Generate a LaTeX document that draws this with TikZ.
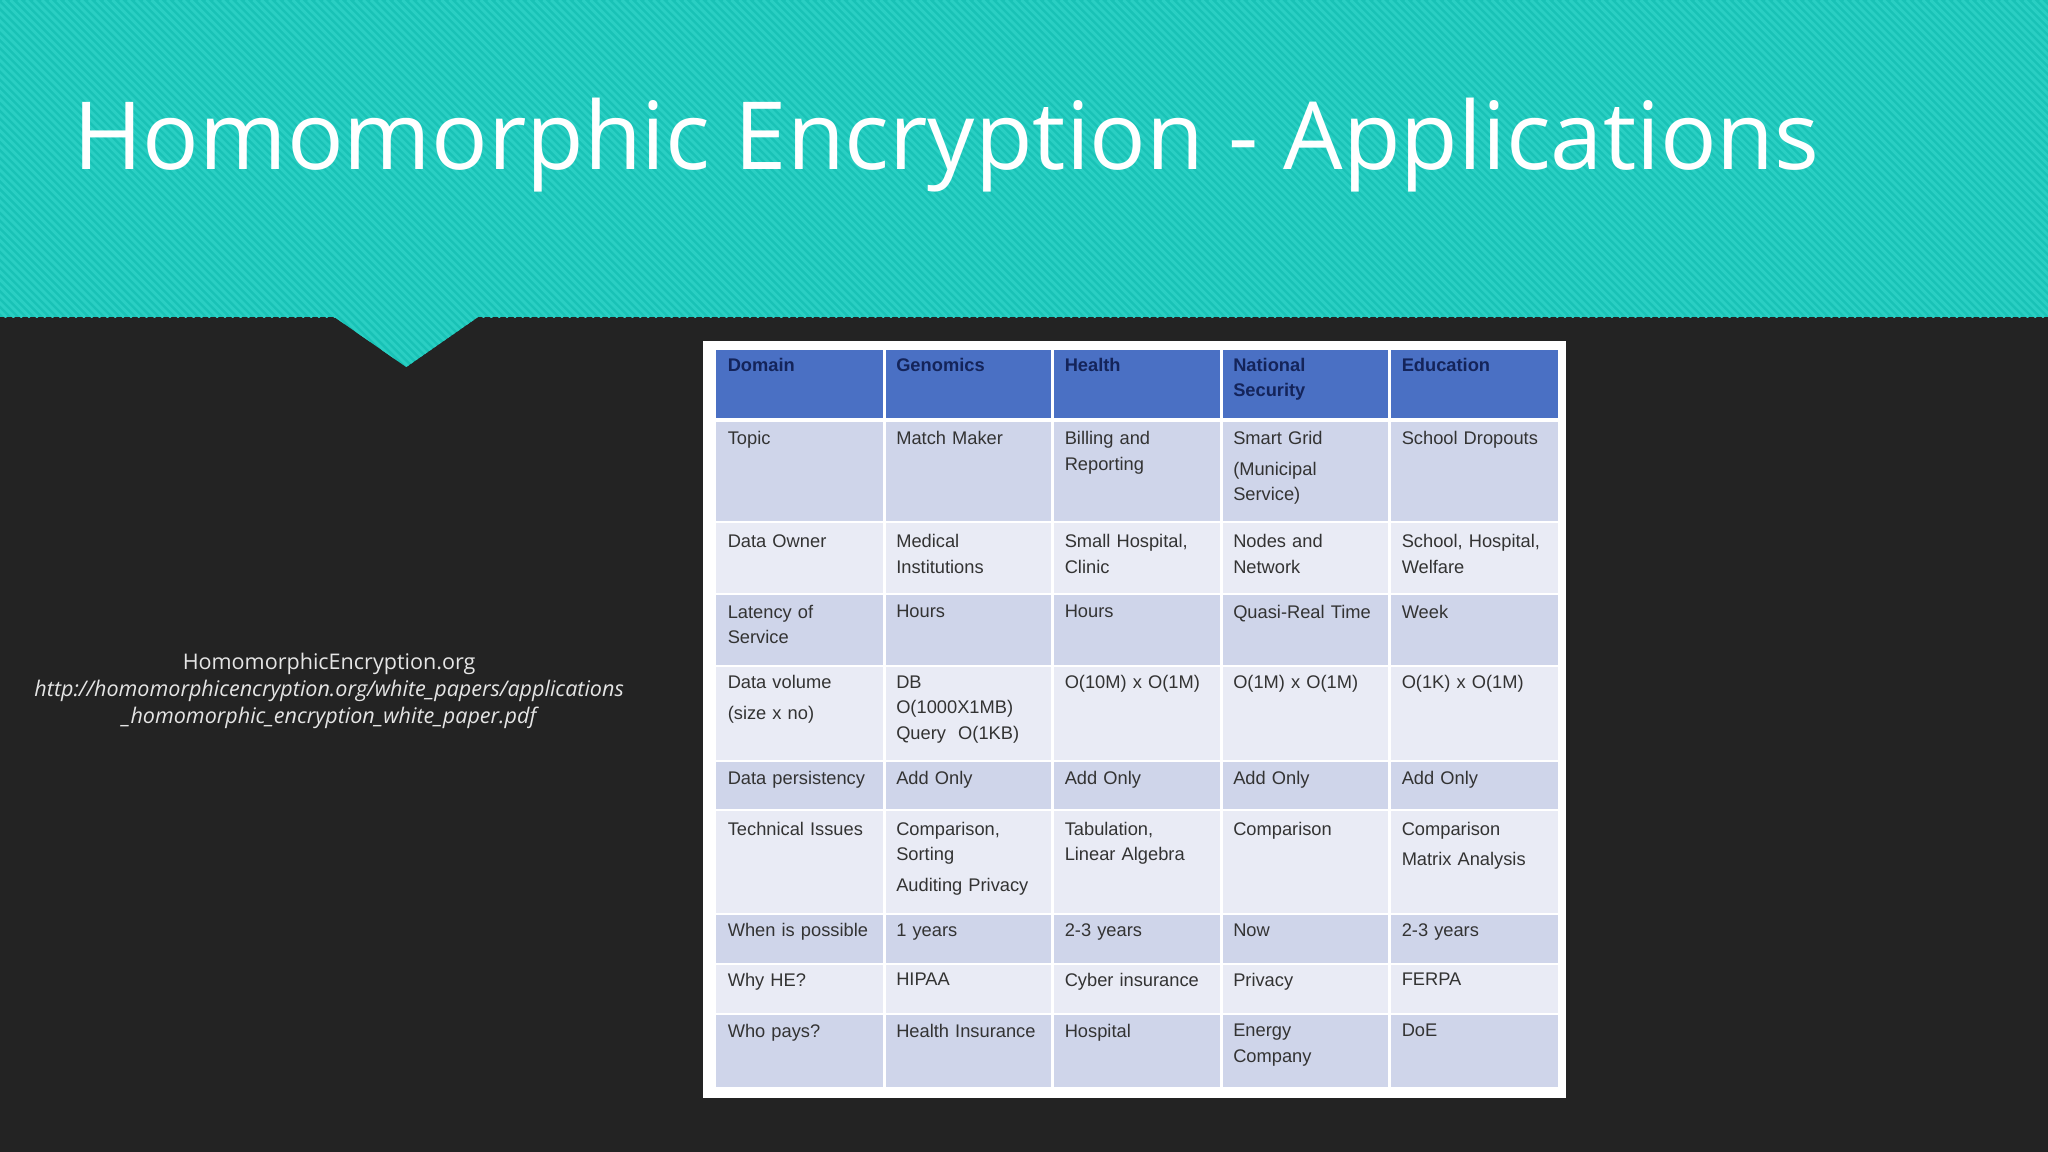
\documentclass[tikz,border=0pt]{standalone}
\usepackage{fontspec}
\setmainfont{Liberation Sans}
\newfontfamily\titlefont{Open Sans}
\definecolor{teal1}{HTML}{19C2B6}
\definecolor{teal2}{HTML}{2ACFC3}
\definecolor{bgdark}{HTML}{232323}
\definecolor{hdr}{HTML}{4A70C4}
\definecolor{hdrtxt}{HTML}{14245A}
\definecolor{rowA}{HTML}{CFD5EA}
\definecolor{rowB}{HTML}{E9EBF5}
\definecolor{celltxt}{HTML}{333333}
\tikzset{
  cell/.style={anchor=north west,align=left,inner sep=0pt,text width=118pt,font=\fontsize{14}{19.5}\selectfont,text=celltxt},
  hcell/.style={cell,font=\fontsize{14}{19.5}\selectfont\bfseries,text=hdrtxt},
  cite/.style={align=center,font=\titlefont\fontsize{16.5}{21}\selectfont,text=white!90!black,inner sep=0pt}
}
\begin{document}
\begin{tikzpicture}[x=1pt,y=-1pt]
\useasboundingbox (0,0) rectangle (1568,882);
\fill[bgdark] (0,0) rectangle (1568,882);
\fill[teal1] (0,0) rectangle (1568,243);
\begin{scope}
\clip (0,0) rectangle (1568,243);
\foreach \i in {-250,-244,...,1570}{
  \draw[teal2,line width=2.2pt] (\i,0) -- (\i+243,243);
}
\end{scope}
\fill[teal1] (255,242) -- (367,242) -- (311,281) -- cycle;
\begin{scope}
\clip (255,242) -- (367,242) -- (311,281) -- cycle;
\foreach \i in {-10,-4,...,370}{
  \draw[teal2,line width=2.2pt] (\i,0) -- (\i+300,300);
}
\end{scope}
\node[anchor=west,inner sep=0pt,text=white,font=\titlefont\fontsize{72}{80}\selectfont] (title) at (56,111) {Homomorphic Encryption - Applications};
\node[cite] (cite) at (252,529) {HomomorphicEncryption.org\\\itshape http://homomorphicencryption.org/white\_papers/applications\\\itshape \_homomorphic\_encryption\_white\_paper.pdf};
% table
\fill[white] (538,261) rectangle (1199,841);
\def\xs{{548,677,806,935,1064,1193}}
\fill[hdr] (548,268) rectangle (1193,320);
\foreach \a/\b/\c in {322/400/rowA,400/455/rowB,455/510/rowA,510/583/rowB,583/620/rowA,620/700/rowB,700/738/rowA,738/776/rowB,776/832/rowA}{
  \fill[\c] (548,\a) rectangle (1193,\b);
  \draw[white,line width=1.5pt] (548,\a) -- (1193,\a);
}
\foreach \x in {677,806,935,1064}{\draw[white,line width=2pt] (\x,268) -- (\x,832);}
% header
\node[hcell] (h1) at (557,274) {Domain};
\node[hcell] (h2) at (686,274) {Genomics};
\node[hcell] (h3) at (815,274) {Health};
\node[hcell] (h4) at (944,274) {National\\Security};
\node[hcell] (h5) at (1073,274) {Education};
% rows
\node[cell] (r1a) at (557,330) {Topic};
\node[cell] (r1b) at (686,330) {Match Maker};
\node[cell] (r1c) at (815,330) {Billing and\\Reporting};
\node[cell] (r1d) at (944,330) {Smart Grid\\[4pt](Municipal\\Service)};
\node[cell] (r1e) at (1073,330) {School Dropouts};
\node[cell] (r2a) at (557,409) {Data Owner};
\node[cell] (r2b) at (686,409) {Medical\\Institutions};
\node[cell] (r2c) at (815,409) {Small Hospital,\\Clinic};
\node[cell] (r2d) at (944,409) {Nodes and\\Network};
\node[cell] (r2e) at (1073,409) {School, Hospital,\\Welfare};
\node[cell] (r3a) at (557,463) {Latency of\\Service};
\node[cell] (r3b) at (686,463) {Hours};
\node[cell] (r3c) at (815,463) {Hours};
\node[cell] (r3d) at (944,463) {Quasi-Real Time};
\node[cell] (r3e) at (1073,463) {Week};
\node[cell] (r4a) at (557,517) {Data volume\\[4pt](size x no)};
\node[cell] (r4b) at (686,517) {DB\\O(1000X1MB)\\Query\ \ O(1KB)};
\node[cell] (r4c) at (815,517) {O(10M) x O(1M)};
\node[cell] (r4d) at (944,517) {O(1M) x O(1M)};
\node[cell] (r4e) at (1073,517) {O(1K) x O(1M)};
\node[cell] (r5a) at (557,590) {Data persistency};
\node[cell] (r5b) at (686,590) {Add Only};
\node[cell] (r5c) at (815,590) {Add Only};
\node[cell] (r5d) at (944,590) {Add Only};
\node[cell] (r5e) at (1073,590) {Add Only};
\node[cell] (r6a) at (557,629) {Technical Issues};
\node[cell] (r6b) at (686,629) {Comparison,\\Sorting\\[4pt]Auditing Privacy};
\node[cell] (r6c) at (815,629) {Tabulation,\\Linear Algebra};
\node[cell] (r6d) at (944,629) {Comparison};
\node[cell] (r6e) at (1073,629) {Comparison\\[4pt]Matrix Analysis};
\node[cell] (r7a) at (557,707) {When is possible};
\node[cell] (r7b) at (686,707) {1 years};
\node[cell] (r7c) at (815,707) {2-3 years};
\node[cell] (r7d) at (944,707) {Now};
\node[cell] (r7e) at (1073,707) {2-3 years};
\node[cell] (r8a) at (557,745) {Why HE?};
\node[cell] (r8b) at (686,745) {HIPAA};
\node[cell] (r8c) at (815,745) {Cyber insurance};
\node[cell] (r8d) at (944,745) {Privacy};
\node[cell] (r8e) at (1073,745) {FERPA};
\node[cell] (r9a) at (557,784) {Who pays?};
\node[cell] (r9b) at (686,784) {Health Insurance};
\node[cell] (r9c) at (815,784) {Hospital};
\node[cell] (r9d) at (944,784) {Energy\\Company};
\node[cell] (r9e) at (1073,784) {DoE};
\end{tikzpicture}
\end{document}
